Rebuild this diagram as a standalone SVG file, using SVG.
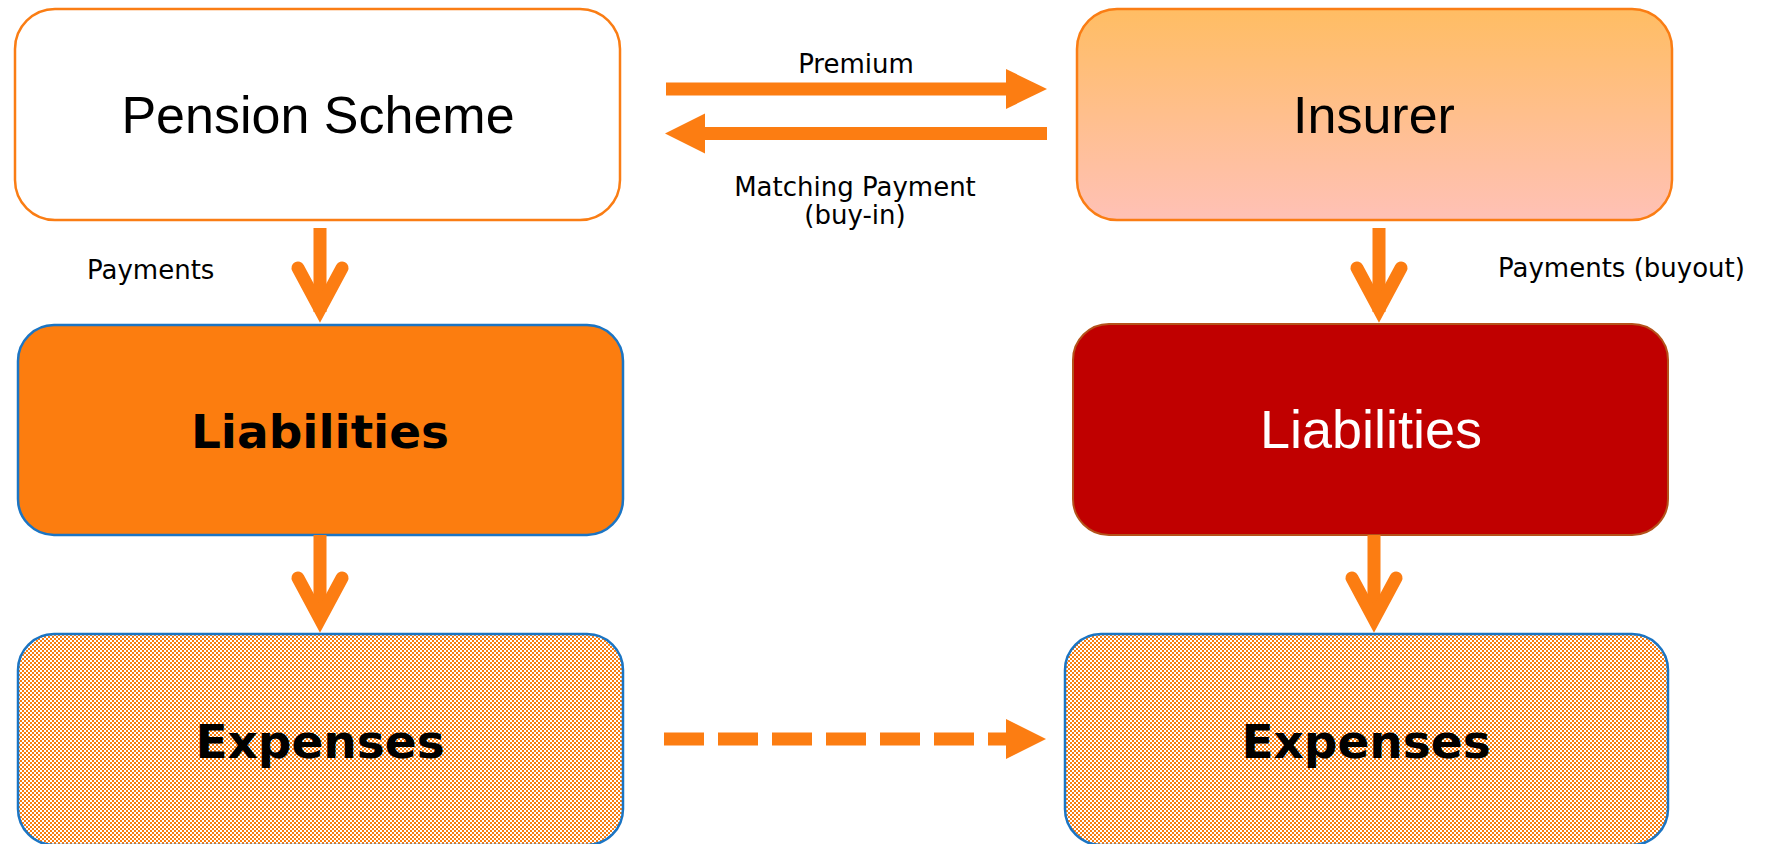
<svg xmlns="http://www.w3.org/2000/svg" width="1769" height="844" viewBox="0 0 1769 844">
  <defs>
    <linearGradient id="insurerFill" x1="0" y1="0" x2="0" y2="1">
      <stop offset="0" stop-color="#FFBD63"/>
      <stop offset="1" stop-color="#FFC1B6"/>
    </linearGradient>
    <!-- fine 2px checker used for the expense boxes -->
    <pattern id="checker" x="0" y="0" width="4" height="4" patternUnits="userSpaceOnUse">
      <rect width="4" height="4" fill="#FFFFFF"/>
      <rect x="0" y="0" width="2" height="2" fill="#F77D10"/>
      <rect x="2" y="2" width="2" height="2" fill="#F77D10"/>
    </pattern>
  </defs>
  <style>
    .box { stroke-width: 2.5; }
    .orangeEdge { stroke: #FA7D14; }
    .blueEdge { stroke: #1B75C4; }
    .big { font-family: "Liberation Sans", Arial, sans-serif; font-size: 52px; text-anchor: middle; }
    .bold { font-family: "DejaVu Sans", Verdana, sans-serif; font-weight: bold; font-size: 47px; text-anchor: middle; fill: #000; }
    .label { font-family: "DejaVu Sans", Verdana, sans-serif; font-size: 26px; fill: #000; }
    .shaft { stroke: #FC7D12; stroke-width: 13; fill: none; }
    .vhead { stroke: #FC7D12; stroke-width: 13; fill: none; stroke-linecap: round; stroke-linejoin: miter; }
    .head { fill: #FC7D12; }
  </style>

  <rect width="1769" height="844" fill="#FFFFFF"/>

  <g id="pension-scheme">
    <rect class="box orangeEdge" x="15" y="9" width="605" height="211" rx="40" fill="#FFFFFF"/>
    <text class="big" x="318" y="133" fill="#000">Pension Scheme</text>
  </g>

  <g id="insurer">
    <rect class="box orangeEdge" x="1077" y="9" width="595" height="211" rx="40" fill="url(#insurerFill)"/>
    <text class="big" x="1374" y="133" fill="#000">Insurer</text>
  </g>

  <g id="scheme-liabilities">
    <rect class="box blueEdge" x="18" y="325" width="605" height="210" rx="36" fill="#FC7D0F"/>
    <text class="bold" x="320" y="448">Liabilities</text>
  </g>

  <g id="insurer-liabilities">
    <rect x="1073" y="324" width="595" height="211" rx="36" fill="#C00000" stroke="#B4521A" stroke-width="2"/>
    <text class="big" x="1371" y="448" fill="#FFFFFF" style="font-size:54px">Liabilities</text>
  </g>

  <g id="scheme-expenses">
    <rect class="box blueEdge" x="18" y="634" width="605" height="211" rx="36" fill="url(#checker)"/>
    <text class="bold" x="320" y="758">Expenses</text>
  </g>

  <g id="insurer-expenses">
    <rect class="box blueEdge" x="1065" y="634" width="603" height="211" rx="36" fill="url(#checker)"/>
    <text class="bold" x="1366" y="758">Expenses</text>
  </g>

  <g id="connectors">
    <!-- premium: scheme to insurer -->
    <line class="shaft" x1="666" y1="89" x2="1008" y2="89"/>
    <polygon class="head" points="1006,69 1047,89 1006,109"/>
    <!-- matching payment: insurer to scheme -->
    <line class="shaft" x1="1047" y1="133.5" x2="703" y2="133.5"/>
    <polygon class="head" points="705,113.5 665,133.5 705,153.5"/>

    <!-- scheme payments -->
    <line class="shaft" x1="320" y1="228" x2="320" y2="312"/>
    <path class="vhead" d="M298 268 L320 309 L342 268"/>
    <!-- insurer payments (buyout) -->
    <line class="shaft" x1="1379" y1="228" x2="1379" y2="312"/>
    <path class="vhead" d="M1357 268 L1379 309 L1401 268"/>

    <!-- liabilities to expenses -->
    <line class="shaft" x1="320" y1="535" x2="320" y2="620"/>
    <path class="vhead" d="M298 578 L320 619 L342 578"/>
    <line class="shaft" x1="1374" y1="535" x2="1374" y2="620"/>
    <path class="vhead" d="M1352 578 L1374 619 L1396 578"/>

    <!-- expenses transfer, dashed -->
    <line class="shaft" x1="664" y1="739" x2="1008" y2="739" stroke-dasharray="40 14"/>
    <polygon class="head" points="1006,719 1046,739 1006,759"/>
  </g>

  <g id="labels">
    <text class="label" x="856" y="73" text-anchor="middle">Premium</text>
    <text class="label" x="855" y="196" text-anchor="middle">Matching Payment</text>
    <text class="label" x="855" y="224" text-anchor="middle">(buy-in)</text>
    <text class="label" x="87" y="279">Payments</text>
    <text class="label" x="1498" y="277">Payments (buyout)</text>
  </g>
</svg>
